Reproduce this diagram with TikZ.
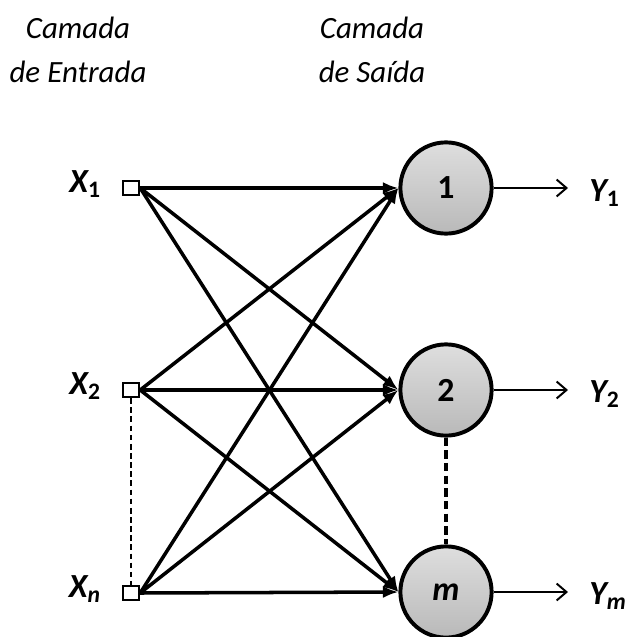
\documentclass[tikz,border=0pt]{standalone}
\usepackage{fontspec}
\setmainfont{Carlito}
\usetikzlibrary{arrows.meta,positioning}
\definecolor{NeuronTop}{RGB}{222,222,222}
\definecolor{NeuronBottom}{RGB}{185,185,185}

\begin{document}
\begin{tikzpicture}[x=0.025cm,y=-0.025cm,
  entrada/.style={draw,line width=1.4pt,fill=white,minimum width=0.41cm,minimum height=0.36cm,inner sep=0pt},
  neuronio/.style={circle,draw,line width=2.8pt,top color=NeuronTop,bottom color=NeuronBottom,minimum size=2.28cm,inner sep=0pt,font=\fontsize{24}{28}\selectfont},
  conexao/.style={line width=2.5pt,-{Latex[length=11pt,width=8.5pt]}},
  saida/.style={line width=1.4pt,-{Straight Barb[length=7pt,width=12pt]}},
  rotulo/.style={inner sep=0pt,font=\fontsize{24}{28}\selectfont\bfseries\itshape},
  camada/.style={align=center,font=\fontsize{22}{31}\selectfont\itshape}]
\useasboundingbox (0,0) rectangle (630,637);
% titulos
\node[camada] (tentrada) at (78,50) {Camada\\de Entrada};
\node[camada] (tsaida) at (372,50) {Camada\\de Saída};
% camada de entrada
\node[entrada] (x1) at (131,188) {};
\node[entrada] (x2) at (131,390) {};
\node[entrada] (xn) at (131,593) {};
\node[rotulo,anchor=base east] (lx1) at (101,192) {X\textsubscript{\upshape 1}};
\node[rotulo,anchor=base east] (lx2) at (101,394) {X\textsubscript{\upshape 2}};
\node[rotulo,anchor=base east] (lxn) at (101,597) {X\textsubscript{n}};
% camada de saida
\node[neuronio] (n1) at (446,188) {\textbf{1}};
\node[neuronio] (n2) at (446,390) {\textbf{2}};
\node[neuronio] (nm) at (446,592) {\textbf{\textit{m}}};
% conexoes
\foreach \i in {x1,x2,xn}
  \foreach \j in {n1,n2,nm}
    \draw[conexao] (\i.east) -- (\j.west);
\draw[line width=1pt,dash pattern=on 4pt off 2.5pt] (x2.south) -- (xn.north);
\draw[line width=2.5pt,dash pattern=on 6pt off 3pt] (n2.south) -- (nm.north);
% saidas
\coordinate (s1) at (568,188);
\coordinate (s2) at (568,390);
\coordinate (sm) at (568,592);
\draw[saida] (n1.east) -- (s1);
\draw[saida] (n2.east) -- (s2);
\draw[saida] (nm.east) -- (sm);
\node[rotulo,anchor=base west] (ly1) at (589,201) {Y\textsubscript{\upshape 1}};
\node[rotulo,anchor=base west] (ly2) at (589,402) {Y\textsubscript{\upshape 2}};
\node[rotulo,anchor=base west] (lym) at (589,604) {Y\textsubscript{m}};
\end{tikzpicture}
\end{document}
